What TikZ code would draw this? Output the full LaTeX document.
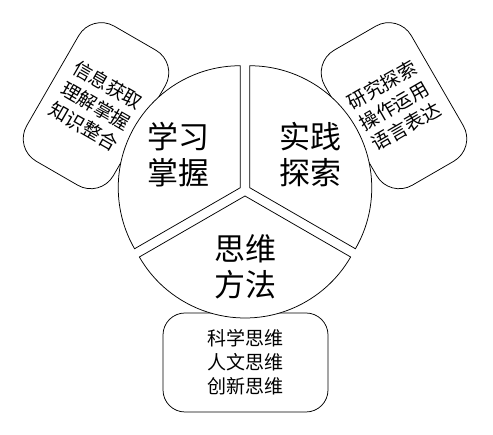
\documentclass[tikz,border=0pt]{standalone}
\usepackage{fontspec}
\newfontfamily\cjk{Noto Sans CJK SC}
\tikzset{
  sector/.style={draw=black, line width=0.75pt, fill=white, line join=miter},
  sidebox/.style={draw=black, line width=0.75pt, fill=white, rounded corners=26pt,
    inner sep=0pt, align=center, font=\cjk\fontsize{19}{24}\selectfont},
  bigtext/.style={align=center, font=\cjk\fontsize{31}{36}\selectfont},
}
\begin{document}
\begin{tikzpicture}[x=1pt, y=1pt]
\useasboundingbox (0,0) rectangle (493,435);
% side boxes (drawn first, partly covered by the circle)
\node[sidebox, minimum width=100pt, minimum height=156pt, rotate=-30] (lbox) at (96,329.3)
  {信息获取\\理解掌握\\知识整合};
\node[sidebox, minimum width=100pt, minimum height=156pt, rotate=30] (rbox) at (394,329.3)
  {研究探索\\操作运用\\语言表达};
\node[sidebox, rounded corners=22pt, minimum width=165pt, minimum height=99pt] (bbox) at (245.5,72.5)
  {科学思维\\人文思维\\创新思维};
% exploded circle sectors
\def\R{122}
\coordinate (cl) at (240.24,247.25);
\coordinate (cr) at (249.76,247.25);
\coordinate (cb) at (245,239);
\draw[sector] (cl) -- ++(90:\R) arc[start angle=90, end angle=210, radius=\R] -- cycle;
\draw[sector] (cr) -- ++(-30:\R) arc[start angle=-30, end angle=90, radius=\R] -- cycle;
\draw[sector] (cb) -- ++(210:\R) arc[start angle=210, end angle=330, radius=\R] -- cycle;
% sector labels
\node[bigtext] (t1) at (178,280) {学习\\掌握};
\node[bigtext] (t2) at (310,280) {实践\\探索};
\node[bigtext] (t3) at (245,168) {思维\\方法};
\end{tikzpicture}
\end{document}
